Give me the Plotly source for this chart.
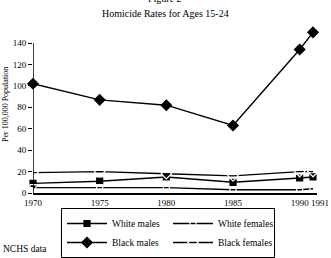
import plotly.graph_objects as go

years = [1970, 1975, 1980, 1985, 1990, 1991]
white_males = [9, 11, 15, 10, 14, 15]
white_females = [5, 5, 5, 3, 3, 4]
black_males = [102, 87, 82, 63, 134, 150]
black_females = [19, 20, 18, 16, 20, 20]
y_ticks = [0, 20, 40, 60, 80, 100, 120, 140]
x_ticks = [1970, 1975, 1980, 1985, 1990]
x_last_tick = 1991

FONT = "Liberation Serif"
L, R, T, B = 33, 14, 27, 65
W, H = 331, 258
ph = H - T - B
pw = W - L - R

fig = go.Figure()
series = [
    ("White males", white_males, "square", 6),
    ("White females", white_females, "square-open", 6),
    ("Black males", black_males, "diamond", 8),
    ("Black females", black_females, "diamond-open", 8),
]
for name, vals, sym, sz in series:
    fig.add_trace(go.Scatter(
        x=years, y=vals, name=name, mode="lines+markers",
        line=dict(color="black", width=1.4),
        marker=dict(symbol=sym, size=sz, color="black" if "open" not in sym else "white",
                    line=dict(color="black", width=1.2)),
        cliponaxis=False,
    ))

fig.add_shape(type="line", xref="x", yref="y", x0=1970, x1=1970, y0=0, y1=140,
              line=dict(color="black", width=1.5))

def px_x(p):
    return (p - L) / pw

def px_y(p):
    return (H - B - p) / ph

fig.update_layout(
    width=W, height=H,
    margin=dict(l=L, r=R, t=T, b=B, autoexpand=False),
    paper_bgcolor="white", plot_bgcolor="white",
    font=dict(family=FONT, size=9, color="black"),
    showlegend=True,
    legend=dict(
        orientation="h", x=px_x(61), y=px_y(208), xanchor="left", yanchor="top",
        bordercolor="black", borderwidth=1, entrywidth=51, entrywidthmode="pixels",
        font=dict(family=FONT, size=9.5), tracegroupgap=0,
        itemwidth=40,
    ),
    xaxis=dict(range=[1970, 1991.3], tickvals=x_ticks, ticktext=[str(v) for v in x_ticks],
               tickangle=0,
               showgrid=False, zeroline=False, showline=True, linecolor="black", linewidth=1.5,
               ticks="", tickfont=dict(family=FONT, size=9)),
    yaxis=dict(range=[0, 155], tickvals=y_ticks, showgrid=False, zeroline=False, showline=False,
               ticks="outside", ticklen=4, tickcolor="black", tickwidth=1,
               tickfont=dict(family=FONT, size=9)),
)

fig.add_annotation(text=str(x_last_tick), xref="x", yref="paper",
                   x=x_last_tick, xshift=7, y=px_y(203), xanchor="center", yanchor="middle",
                   showarrow=False, font=dict(family=FONT, size=9))
fig.add_annotation(text="Homicide Rates for Ages 15-24", xref="paper", yref="paper",
                   x=px_x(165), y=px_y(13), xanchor="center", yanchor="middle", showarrow=False,
                   font=dict(family=FONT, size=10))
fig.add_annotation(text="Figure 2", xref="paper", yref="paper",
                   x=px_x(165), y=px_y(-1), xanchor="center", yanchor="middle", showarrow=False,
                   font=dict(family=FONT, size=10))
fig.add_annotation(text="Per 100,000 Population", xref="paper", yref="paper",
                   x=px_x(5), y=px_y(105), xanchor="center", yanchor="middle",
                   showarrow=False, textangle=-90,
                   font=dict(family=FONT, size=8))
fig.add_annotation(text="NCHS data", xref="paper", yref="paper",
                   x=px_x(1), y=px_y(249), xanchor="left", yanchor="middle", showarrow=False,
                   font=dict(family=FONT, size=9.5))

fig.write_html("out.html")
